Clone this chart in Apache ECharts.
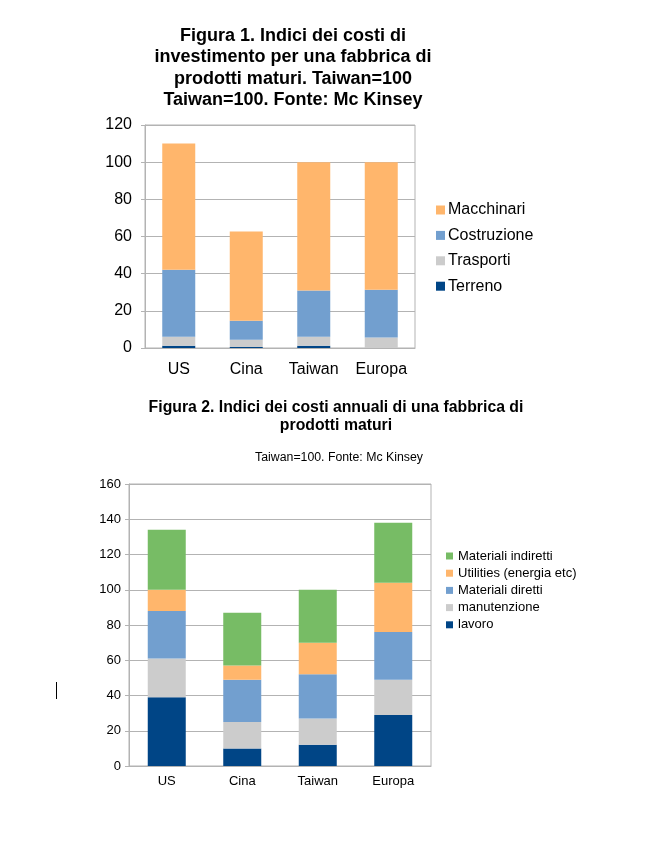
<!DOCTYPE html>
<html><head><meta charset="utf-8">
<script src="https://cdn.jsdelivr.net/npm/echarts@6/dist/echarts.min.js"></script>
<style>html,body{margin:0;padding:0;background:#fff}#c{width:645px;height:858px}</style>
</head><body><div id="c"></div>
<script>
const categories = ['US', 'Cina', 'Taiwan', 'Europa'];
// Figura 1
const terreno = [1.2, 0.6, 1.2, 0];
const trasporti = [4.9, 3.9, 4.9, 5.6];
const costruzione = [36, 10.2, 24.8, 25.8];
const macchinari = [68, 48, 69.1, 68.6];
const yTicks1 = {min: 0, max: 120, interval: 20};
// Figura 2
const lavoro = [39, 10, 12, 29];
const manutenzione = [22, 15, 15, 20];
const materialiDiretti = [27, 24, 25, 27];
const utilities = [12, 8, 18, 28];
const materialiIndiretti = [34, 30, 30, 34];
const yTicks2 = {min: 0, max: 160, interval: 20};

const C = {dark:'#004586', grey:'#cccccc', blue:'#729fcf', orange:'#ffb66c', green:'#77bc65'};
const F = 'Liberation Sans, Arial, sans-serif';
const axisGrey = '#b3b3b3';

function xAx(gi, fs, margin){
  return {type:'category', gridIndex:gi, data:categories,
    axisLine:{lineStyle:{color:axisGrey}}, axisTick:{length:5, lineStyle:{color:axisGrey}},
    axisLabel:{color:'#000', fontFamily:F, fontSize:fs, margin:margin}};
}
function yAx(gi, t, fs, margin){
  return {type:'value', gridIndex:gi, min:t.min, max:t.max, interval:t.interval,
    axisLine:{show:true, lineStyle:{color:axisGrey}}, axisTick:{show:true, length:4, lineStyle:{color:axisGrey}},
    splitLine:{lineStyle:{color:axisGrey}},
    axisLabel:{color:'#000', fontFamily:F, fontSize:fs, margin:margin}};
}
function bar(name, data, color, gi, stack, w){
  return {name, type:'bar', stack, xAxisIndex:gi, yAxisIndex:gi, data, barWidth:w,
    itemStyle:{color}, emphasis:{disabled:true}};
}

const chart = echarts.init(document.getElementById('c'), null, {renderer:'canvas'});
chart.setOption({
  backgroundColor:'#fff',
  animation:false,
  grid:[
    {left:145, top:125, width:270, height:223, show:true, borderColor:axisGrey, borderWidth:1},
    {left:129, top:484, width:302, height:282, show:true, borderColor:axisGrey, borderWidth:1}
  ],
  xAxis:[xAx(0,16,14), xAx(1,13,9)],
  yAxis:[yAx(0,yTicks1,16,13), yAx(1,yTicks2,13,8)],
  legend:[
    {orient:'vertical', left:436, top:201, padding:0, itemWidth:9, itemHeight:9, itemGap:7.4,
     icon:'rect', data:['Macchinari','Costruzione','Trasporti','Terreno'],
     textStyle:{fontFamily:F, fontSize:16, color:'#000', lineHeight:18, padding:[0,0,0,-2]}, selectedMode:false},
    {orient:'vertical', left:446, top:548.5, padding:0, itemWidth:7, itemHeight:7, itemGap:2.2,
     icon:'rect', data:['Materiali indiretti','Utilities (energia etc)','Materiali diretti','manutenzione','lavoro'],
     textStyle:{fontFamily:F, fontSize:13, color:'#000', lineHeight:15}, selectedMode:false}
  ],
  series:[
    bar('Terreno', terreno, C.dark, 0, 'a', 33),
    bar('Trasporti', trasporti, C.grey, 0, 'a', 33),
    bar('Costruzione', costruzione, C.blue, 0, 'a', 33),
    bar('Macchinari', macchinari, C.orange, 0, 'a', 33),
    bar('lavoro', lavoro, C.dark, 1, 'b', 38),
    bar('manutenzione', manutenzione, C.grey, 1, 'b', 38),
    bar('Materiali diretti', materialiDiretti, C.blue, 1, 'b', 38),
    bar('Utilities (energia etc)', utilities, C.orange, 1, 'b', 38),
    bar('Materiali indiretti', materialiIndiretti, C.green, 1, 'b', 38)
  ],
  graphic:[
    {type:'text', x:293, y:25.5, silent:true, style:{text:'Figura 1. Indici dei costi di\ninvestimento per una fabbrica di\nprodotti maturi. Taiwan=100\nTaiwan=100. Fonte: Mc Kinsey',
      font:'bold 18px '+F, fill:'#000', align:'center', verticalAlign:'top', lineHeight:21.3}},
    {type:'text', x:336, y:399, silent:true, style:{text:'Figura 2. Indici dei costi annuali di una fabbrica di\nprodotti maturi',
      font:'bold 15.8px '+F, fill:'#000', align:'center', verticalAlign:'top', lineHeight:18}},
    {type:'text', x:339, y:451, silent:true, style:{text:'Taiwan=100. Fonte: Mc Kinsey',
      font:'12.3px '+F, fill:'#000', align:'center', verticalAlign:'top', lineHeight:14}},
    {type:'line', silent:true, shape:{x1:56.5, y1:682, x2:56.5, y2:699}, style:{stroke:'#000', lineWidth:1}}
  ]
});
</script></body></html>
